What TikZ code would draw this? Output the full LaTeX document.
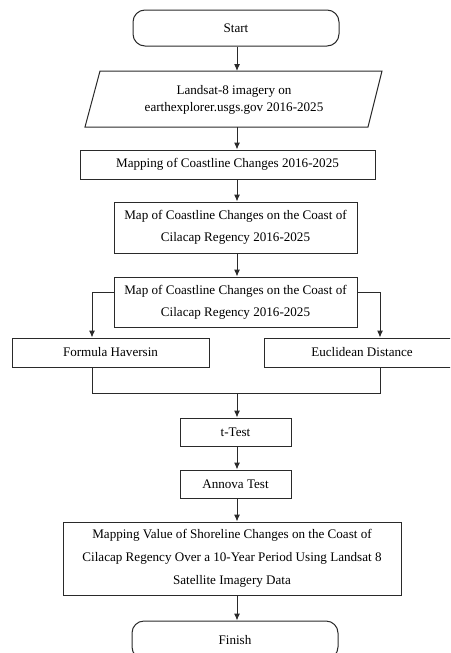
\documentclass[tikz,border=0pt]{standalone}
\usepackage{fontspec}
\setmainfont{Liberation Serif}
\usetikzlibrary{arrows.meta,calc}
\definecolor{ln}{HTML}{2A2A2A}
\begin{document}
\begin{tikzpicture}[x=1pt,y=-1pt,
  box/.style={draw=ln,line width=1pt,inner sep=0pt,align=center,text=black,
    font=\fontsize{13.1}{22}\selectfont},
  term/.style={box,rounded corners=12pt},
  arr/.style={draw=ln,line width=1pt,-{Latex[length=7pt,width=6pt]}},
  ln/.style={draw=ln,line width=1pt}]
\useasboundingbox (0,0) rectangle (450,653);
\clip (0,0) rectangle (450,653);
\coordinate (ax) at (237,0);
% Start
\node[term,minimum width=206pt,minimum height=36pt] (start) at (236,28) {Start};
% Parallelogram
\coordinate (ptl) at (100,71);
\coordinate (ptr) at (382,71);
\coordinate (pbr) at (368,127);
\coordinate (pbl) at (85,127);
\draw[ln] (ptl) -- (ptr) -- (pbr) -- (pbl) -- cycle;
\node[inner sep=0pt,align=center,font=\fontsize{13.1}{17}\selectfont] (para) at (234,99.5)
  {Landsat-8 imagery on\\earthexplorer.usgs.gov 2016-2025};
\coordinate (paratop) at (237,71);
\coordinate (parabot) at (237,127);
% Mapping
\node[box,minimum width=295pt,minimum height=29pt] (map1) at (227.5,164.5)
  {Mapping of Coastline Changes 2016-2025};
\node[box,minimum width=243pt,minimum height=51pt] (map2) at (235.5,227.5)
  {Map of Coastline Changes on the Coast of\\Cilacap Regency 2016-2025};
\node[box,minimum width=243pt,minimum height=50pt] (map3) at (235.5,302)
  {Map of Coastline Changes on the Coast of\\Cilacap Regency 2016-2025};
\node[box,minimum width=197pt,minimum height=29pt] (hav) at (110.5,352.5) {Formula Haversin};
\node[box,minimum width=196pt,minimum height=29pt] (euc) at (362,352.5) {Euclidean Distance};
\node[box,minimum width=111pt,minimum height=28pt] (ttest) at (235.5,432) {t-Test};
\node[box,minimum width=111pt,minimum height=28pt] (anova) at (235.5,484) {Annova Test};
\node[box,minimum width=338pt,minimum height=73pt,font=\fontsize{13.1}{23}\selectfont] (big) at (232,558.5)
  {Mapping Value of Shoreline Changes on the Coast of\\Cilacap Regency Over a 10-Year Period Using Landsat 8\\Satellite Imagery Data};
\node[term,minimum width=206pt,minimum height=38pt] (finish) at (235,640) {Finish};
% coordinates for branches
\coordinate (lx) at (92,0);
\coordinate (rx) at (380,0);
\coordinate (my) at (0,393);
\coordinate (by) at (0,292);
% connectors
\draw[arr] (start.south -| ax) -- (paratop);
\draw[arr] (parabot) -- (map1.north -| ax);
\draw[arr] (map1.south -| ax) -- (map2.north -| ax);
\draw[arr] (map2.south -| ax) -- (map3.north -| ax);
\draw[arr] (map3.west |- by) -| (hav.north -| lx);
\draw[arr] (map3.east |- by) -| (euc.north -| rx);
\draw[ln] (hav.south -| lx) -- (lx |- my) -- (rx |- my) -- (euc.south -| rx);
\draw[arr] (ax |- my) -- (ttest.north -| ax);
\draw[arr] (ttest.south -| ax) -- (anova.north -| ax);
\draw[arr] (anova.south -| ax) -- (big.north -| ax);
\draw[arr] (big.south -| ax) -- (finish.north -| ax);
\end{tikzpicture}
\end{document}
